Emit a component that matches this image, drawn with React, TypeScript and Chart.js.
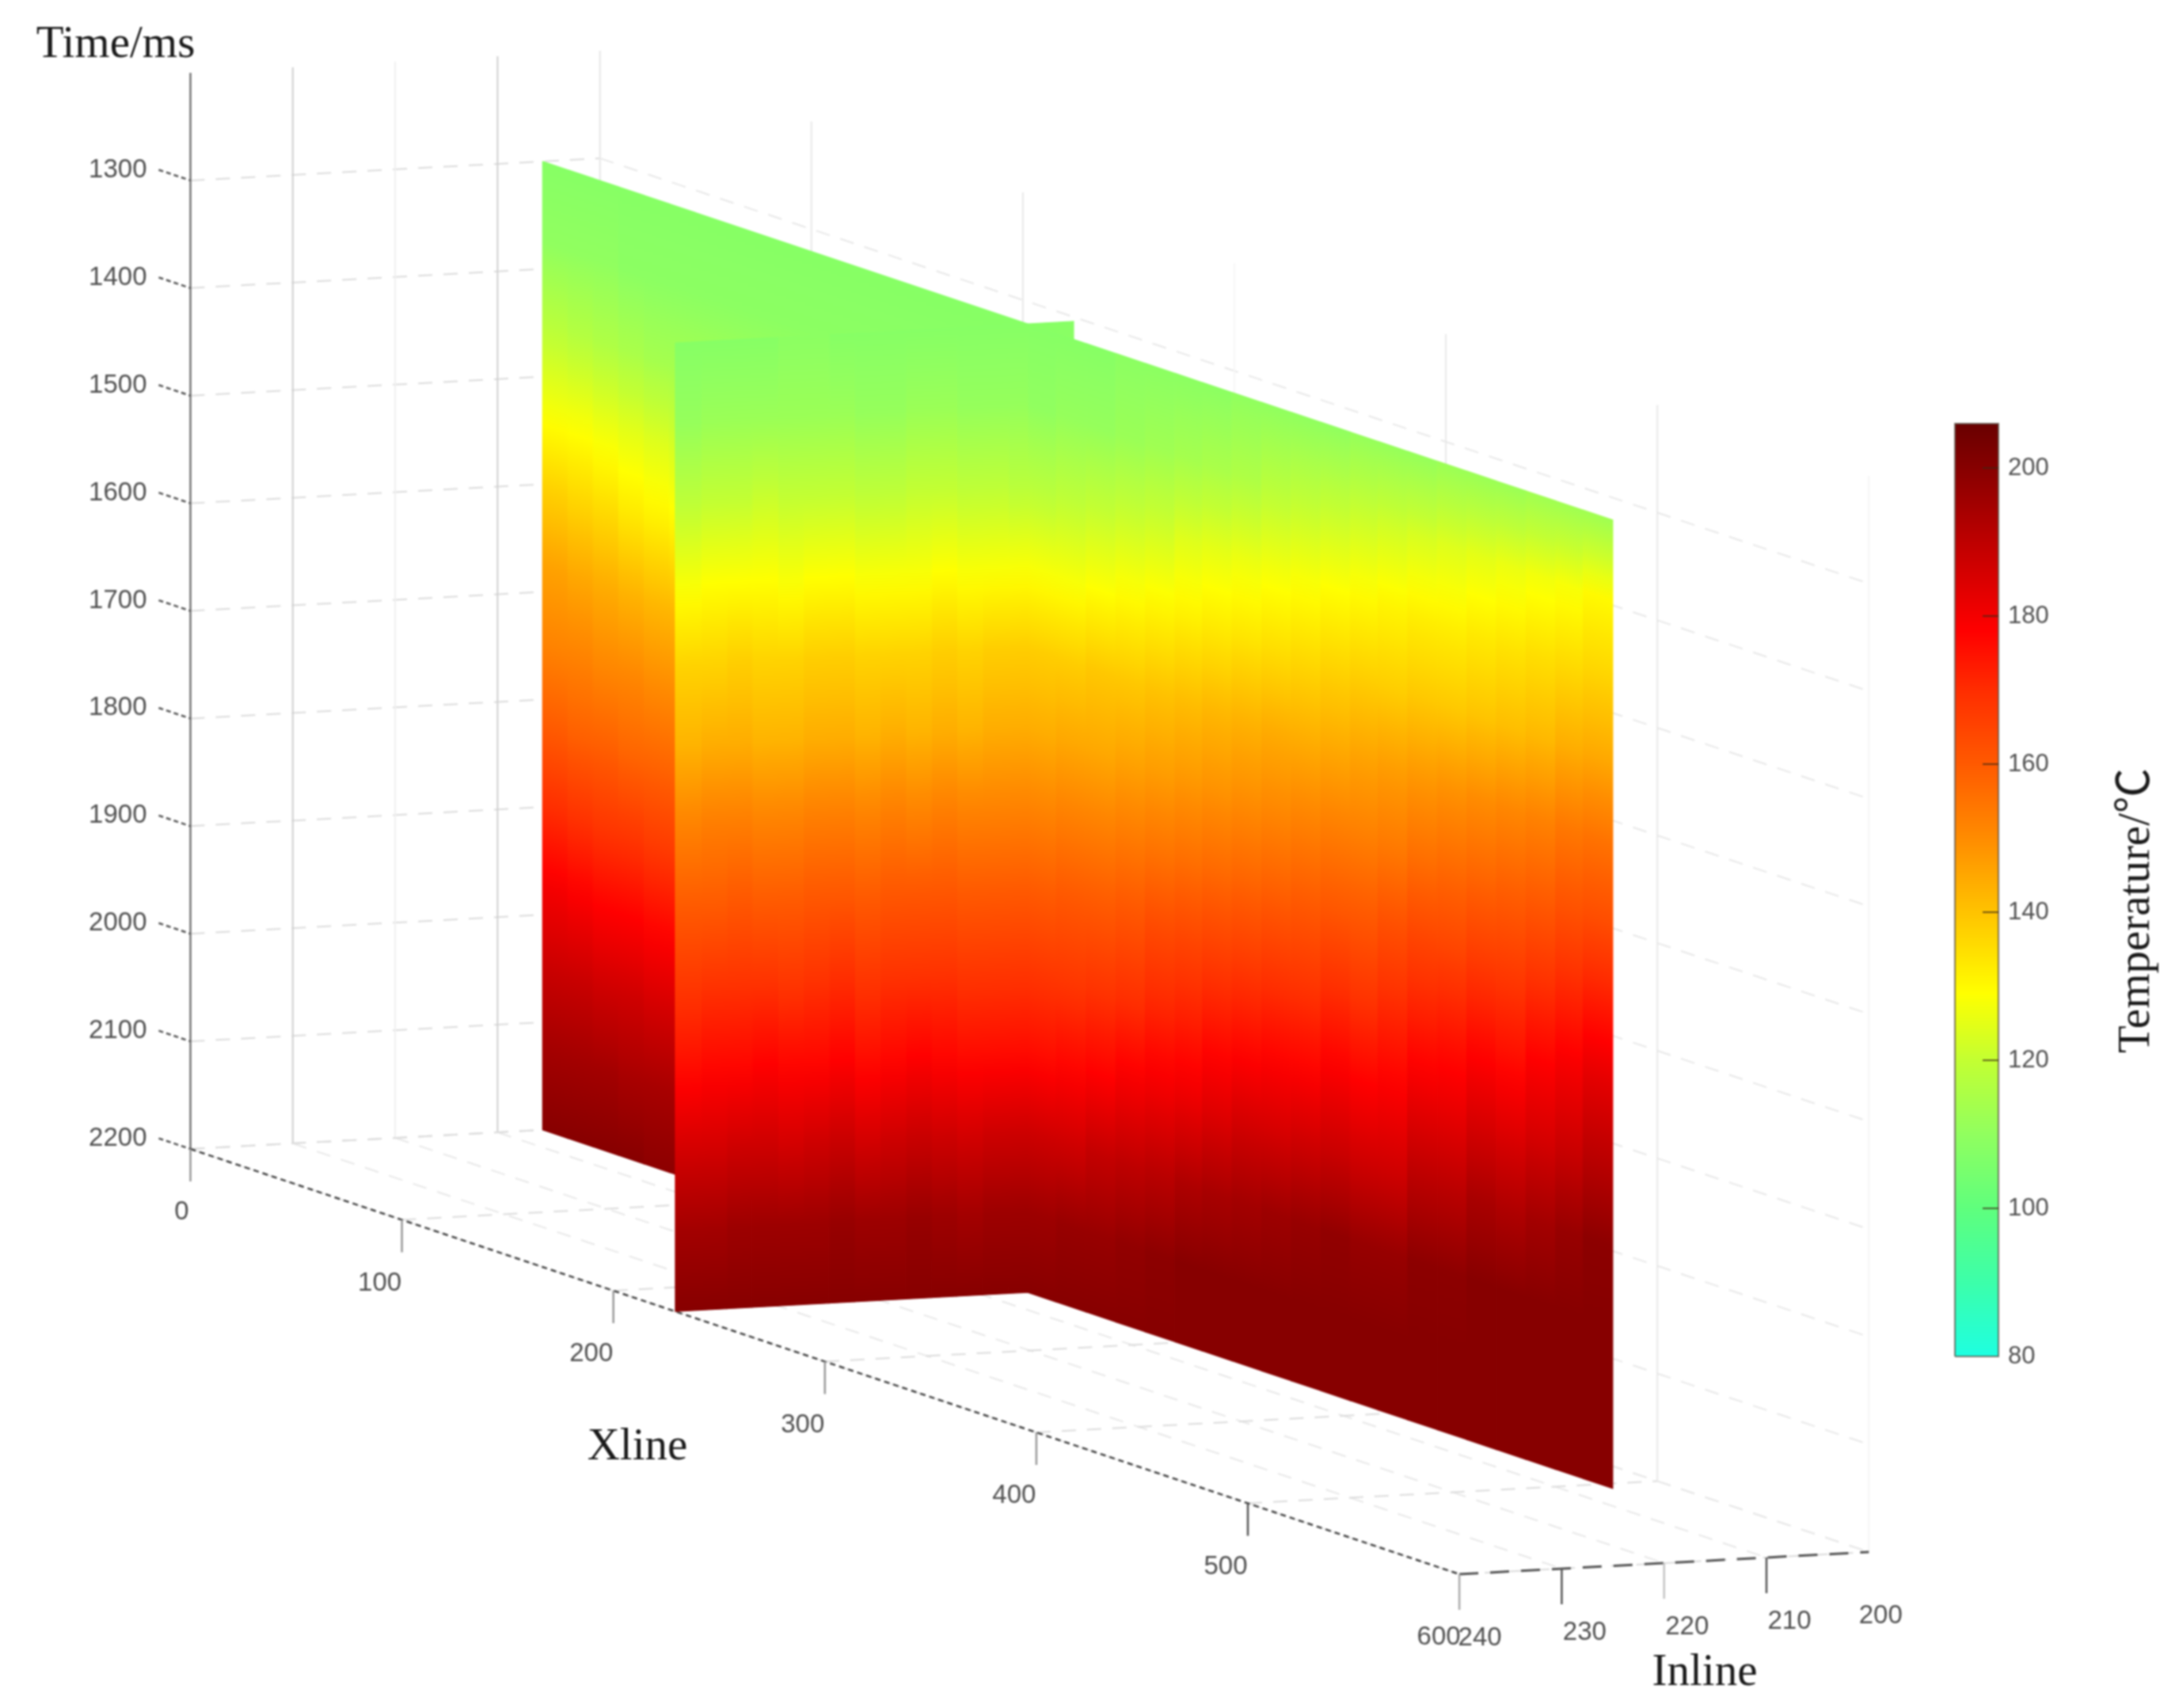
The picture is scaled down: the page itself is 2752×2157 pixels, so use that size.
import { useEffect, useRef } from "react"
import { Chart, registerables } from "chart.js"

Chart.register(...registerables)

const xlineTicks = [0, 100, 200, 300, 400, 500, 600]
const inlineTicks = [240, 230, 220, 210, 200]
const timeTicks = [1300, 1400, 1500, 1600, 1700, 1800, 1900, 2000, 2100, 2200]
const tempTicks = [80, 100, 120, 140, 160, 180, 200]

// rows of the temperature tables, ms
const timeRows = [1300, 1375, 1450, 1525, 1600, 1675, 1750, 1825, 1900, 1975, 2050, 2125, 2200]

// section along the xline direction, at one inline
const sectionInline = 205.6
const sectionEdges = [0, 12, 24, 36, 48, 60, 72, 229, 243, 257, 271, 285, 299, 312, 326, 340, 354, 368, 382, 395, 409, 423, 437, 451, 465, 479, 492, 506]
const sectionTemps = [
  [108, 110, 118, 127, 137, 146, 152, 160, 170, 180, 188, 195, 200],
  [108, 110, 117, 127, 136, 145, 152, 159, 169, 179, 188, 195, 200],
  [108, 110, 116, 126, 135, 144, 151, 159, 168, 178, 187, 195, 200],
  [108, 109, 115, 125, 133, 143, 151, 158, 168, 178, 187, 194, 200],
  [108, 109, 114, 124, 132, 142, 150, 158, 167, 177, 186, 194, 199],
  [108, 109, 114, 123, 131, 142, 150, 158, 167, 177, 186, 194, 199],
  [108, 109, 114, 123, 131, 141, 149, 157, 166, 176, 186, 194, 199],
  [108, 110, 118, 128, 138, 144, 152, 160, 168, 176, 187, 196, 200],
  [108, 111, 119, 128, 138, 145, 153, 161, 168, 177, 187, 197, 200],
  [108, 111, 120, 129, 139, 145, 153, 161, 169, 178, 189, 197, 200],
  [109, 112, 121, 130, 139, 146, 154, 162, 170, 180, 190, 198, 200],
  [109, 113, 122, 131, 140, 147, 155, 164, 172, 181, 191, 199, 200],
  [109, 114, 124, 132, 141, 148, 156, 165, 173, 182, 193, 200, 200],
  [109, 115, 125, 133, 142, 149, 157, 166, 175, 184, 194, 200, 200],
  [110, 116, 126, 134, 143, 150, 158, 167, 176, 186, 195, 200, 200],
  [110, 118, 127, 135, 144, 151, 159, 168, 177, 186, 196, 200, 200],
  [110, 119, 128, 136, 144, 152, 160, 168, 177, 187, 197, 200, 200],
  [110, 120, 129, 137, 145, 153, 161, 170, 179, 188, 198, 200, 200],
  [111, 121, 130, 138, 146, 153, 161, 169, 178, 187, 197, 200, 200],
  [111, 122, 131, 138, 147, 154, 163, 171, 179, 187, 197, 200, 200],
  [111, 123, 132, 139, 148, 156, 165, 173, 182, 191, 199, 200, 200],
  [112, 124, 132, 139, 149, 157, 165, 174, 182, 191, 199, 200, 200],
  [112, 125, 133, 140, 150, 158, 167, 176, 185, 194, 200, 200, 200],
  [112, 126, 134, 141, 151, 159, 167, 175, 184, 193, 200, 200, 200],
  [113, 127, 135, 142, 152, 160, 169, 178, 186, 195, 200, 200, 200],
  [113, 128, 136, 144, 154, 162, 171, 180, 188, 197, 200, 200, 200],
  [113, 130, 137, 145, 155, 163, 173, 183, 191, 199, 200, 200, 200],
]

// section along the inline direction, at one xline
const crossXline = 229.3
const crossEdges = [240, 237.5, 235, 232.5, 230, 227.5, 225, 222.5, 220, 217.5, 215, 212.5, 210, 207.5, 205.6]
const crossTemps = [
  [108, 111, 119, 128, 137, 143, 152, 160, 168, 176, 186, 195, 200],
  [108, 112, 120, 129, 137, 144, 153, 160, 169, 177, 186, 195, 200],
  [108, 112, 120, 129, 138, 144, 153, 161, 169, 177, 187, 196, 200],
  [108, 112, 121, 129, 137, 143, 152, 160, 169, 178, 187, 196, 200],
  [109, 112, 120, 128, 137, 143, 152, 160, 168, 177, 186, 196, 200],
  [109, 112, 120, 129, 138, 144, 153, 161, 169, 177, 187, 196, 200],
  [108, 112, 120, 129, 138, 144, 153, 161, 170, 178, 188, 197, 200],
  [108, 111, 119, 128, 137, 143, 152, 160, 168, 176, 186, 196, 200],
  [108, 111, 119, 128, 137, 144, 153, 161, 169, 177, 187, 196, 200],
  [108, 112, 120, 128, 137, 143, 152, 161, 169, 178, 188, 197, 200],
  [108, 112, 120, 129, 138, 144, 153, 161, 169, 177, 187, 196, 200],
  [108, 111, 119, 128, 137, 143, 152, 160, 168, 176, 186, 195, 200],
  [108, 111, 119, 128, 138, 144, 152, 160, 168, 176, 187, 196, 200],
  [108, 111, 118, 128, 138, 144, 152, 160, 168, 176, 187, 196, 200],
]
// the bit of the cross section that pokes out behind the long one
const crossTailEdges = [205.6, 201.1]
const crossTailTemps = [[108, 111, 118, 128, 138, 144, 152, 160, 168, 176, 187, 196, 200]]

const colormap: [number, number, number, number][] = [
  [80, 30, 255, 225],
  [90, 60, 255, 170],
  [100, 95, 255, 125],
  [110, 145, 255, 95],
  [120, 195, 255, 50],
  [129, 255, 255, 0],
  [140, 255, 195, 0],
  [150, 255, 140, 0],
  [160, 255, 90, 0],
  [170, 255, 45, 0],
  [178, 255, 0, 0],
  [190, 190, 0, 0],
  [200, 135, 0, 0],
  [206, 105, 0, 0],
]

const tempMin = 80
const tempMax = 206

function colorOf(t: number) {
  if (t <= colormap[0][0]) return `rgb(${colormap[0][1]},${colormap[0][2]},${colormap[0][3]})`
  for (let i = 1; i < colormap.length; i++) {
    const a = colormap[i - 1]
    const b = colormap[i]
    if (t <= b[0]) {
      const f = (t - a[0]) / (b[0] - a[0])
      return `rgb(${a[1] + (b[1] - a[1]) * f},${a[2] + (b[2] - a[2]) * f},${a[3] + (b[3] - a[3]) * f})`
    }
  }
  return "rgb(105,0,0)"
}

// oblique view of the cube: xline, inline, time to the chart's plane
function project(xline: number, inline: number, time: number) {
  return {
    x: 240.5 + 2.671 * xline + 12.93 * (240 - inline),
    y: 1451 + 0.895 * xline - 0.7 * (240 - inline) + 1.359 * (time - 2200),
  }
}

function cbarY(t: number) {
  return 1713 - (t - 80) * 9.35
}

type Pt = { x: number; y: number }

function lineSet(points: Pt[], color: string, width: number, dash: number[] = []) {
  return {
    data: points,
    showLine: true,
    pointRadius: 0,
    borderColor: color,
    borderWidth: width,
    borderDash: dash,
    fill: false,
  }
}

// one column of a section, its colour runs down the time rows
function columnSet(corner: (edge: number, time: number) => Pt, e0: number, e1: number, temps: number[]) {
  const first = timeRows[0]
  const last = timeRows[timeRows.length - 1]
  const paint = (ctx: any) => {
    const { x: sx, y: sy } = ctx.chart.scales
    const px = (p: Pt) => ({ x: sx.getPixelForValue(p.x), y: sy.getPixelForValue(p.y) })
    const a = px(corner(e0, first))
    const b = px(corner(e1, first))
    const c = px(corner(e0, last))
    // the scales have no size yet on the first pass
    if (!Number.isFinite(a.x + a.y + b.x + b.y + c.x + c.y)) return colorOf(temps[0])
    const dx = b.x - a.x
    const dy = b.y - a.y
    const n = Math.hypot(dx, dy)
    const nx = -dy / n
    const ny = dx / n
    const along = (c.x - a.x) * nx + (c.y - a.y) * ny
    const g = ctx.chart.ctx.createLinearGradient(a.x, a.y, a.x + nx * along, a.y + ny * along)
    for (let i = 0; i < timeRows.length - 1; i++) {
      for (let s = 0; s < 4; s++) {
        const t = temps[i] + ((temps[i + 1] - temps[i]) * s) / 4
        const tm = timeRows[i] + ((timeRows[i + 1] - timeRows[i]) * s) / 4
        g.addColorStop((tm - first) / (last - first), colorOf(t))
      }
    }
    g.addColorStop(1, colorOf(temps[temps.length - 1]))
    return g
  }
  return {
    data: [corner(e0, first), corner(e1, first), corner(e1, last), corner(e0, last), corner(e0, first)],
    showLine: true,
    pointRadius: 0,
    fill: "shape",
    backgroundColor: paint,
    borderColor: paint,
    borderWidth: 1.2,
  }
}

function buildDatasets() {
  const sets: any[] = []
  const gridColor = "#dcdcdc"
  const fainter = "#e8e8e8"
  const gridDash = [18, 14]

  // walls and floor
  timeTicks.forEach((t) => {
    sets.push(lineSet([project(0, 240, t), project(0, 200, t)], gridColor, 2, gridDash))
    sets.push(lineSet([project(0, 200, t), project(600, 200, t)], fainter, 2, gridDash))
  })
  inlineTicks.forEach((i) => {
    sets.push(lineSet([project(0, i, 2200), project(0, i, 1200)], i % 20 === 10 ? "#cfcfcf" : "#f0f0f0", 2))
    sets.push(lineSet([project(0, i, 2200), project(600, i, 2200)], fainter, 2, gridDash))
  })
  xlineTicks.forEach((x) => {
    sets.push(lineSet([project(x, 240, 2200), project(x, 200, 2200)], gridColor, 2, gridDash))
    sets.push(lineSet([project(x, 200, 2200), project(x, 200, 1200)], x === 600 || x === 300 ? "#f6f6f6" : fainter, 2))
  })

  // axes
  sets.push(lineSet([project(0, 240, 1200), project(0, 240, 2200)], "#777777", 2.5))
  sets.push(lineSet([project(0, 240, 2200), project(600, 240, 2200)], "#444444", 2.5, [7, 5]))
  sets.push(lineSet([project(600, 240, 2200), project(600, 200, 2200)], "#555555", 3, [24, 15]))
  timeTicks.forEach((t) => {
    sets.push(lineSet([project(-15, 240, t), project(0, 240, t)], "#555555", 2.5, [6, 4]))
  })
  const drop = (p: Pt, len: number) => [p, { x: p.x, y: p.y + len }]
  xlineTicks.slice(0, 6).forEach((x) => {
    sets.push(lineSet(drop(project(x, 240, 2200), 41), x === 500 ? "#555555" : "#999999", 2.5))
  })
  inlineTicks.slice(0, 4).forEach((i) => {
    sets.push(lineSet(drop(project(600, i, 2200), 45), i === 220 ? "#c4c4c4" : i === 240 ? "#aaaaaa" : "#555555", 2.5))
  })

  // sections, back to front
  const cross = (e: number, t: number) => project(crossXline, e, t)
  const along = (e: number, t: number) => project(e, sectionInline, t)
  crossTailTemps.forEach((temps, i) => sets.push(columnSet(cross, crossTailEdges[i], crossTailEdges[i + 1], temps)))
  sectionTemps.forEach((temps, i) => sets.push(columnSet(along, sectionEdges[i], sectionEdges[i + 1], temps)))
  for (let i = crossTemps.length - 1; i >= 0; i--) {
    sets.push(columnSet(cross, crossEdges[i], crossEdges[i + 1], crossTemps[i]))
  }

  // colour bar
  const barLeft = 2469
  const barRight = 2524
  const bar = (ctx: any) => {
    const sy = ctx.chart.scales.y
    const y0 = sy.getPixelForValue(cbarY(tempMin))
    const y1 = sy.getPixelForValue(cbarY(tempMax))
    if (!Number.isFinite(y0 + y1)) return colorOf(tempMin)
    const g = ctx.chart.ctx.createLinearGradient(0, y0, 0, y1)
    colormap.forEach((c) => g.addColorStop((c[0] - tempMin) / (tempMax - tempMin), colorOf(c[0])))
    return g
  }
  sets.push({
    data: [
      { x: barLeft, y: cbarY(tempMin) },
      { x: barRight, y: cbarY(tempMin) },
      { x: barRight, y: cbarY(tempMax) },
      { x: barLeft, y: cbarY(tempMax) },
      { x: barLeft, y: cbarY(tempMin) },
    ],
    showLine: true,
    pointRadius: 0,
    fill: "shape",
    backgroundColor: bar,
    borderColor: "rgba(90,80,70,0.75)",
    borderWidth: 2,
  })
  tempTicks.slice(1).forEach((t) => {
    sets.push(lineSet([{ x: barRight - 20, y: cbarY(t) }, { x: barRight, y: cbarY(t) }], "rgba(60,40,20,0.7)", 2))
  })

  // chart.js paints the first dataset on top
  sets.forEach((s, i) => (s.order = sets.length - i))
  return sets
}

const labelsPlugin = {
  id: "cubeLabels",
  afterDraw(chart: any) {
    const { ctx, scales } = chart
    const px = (p: Pt) => ({ x: scales.x.getPixelForValue(p.x), y: scales.y.getPixelForValue(p.y) })
    const tickFont = "33px 'Liberation Sans'"
    const titleFont = "57px 'Liberation Serif', 'Noto Sans CJK SC'"
    const put = (s: string, p: Pt, font: string, color: string, align: CanvasTextAlign = "center") => {
      ctx.font = font
      ctx.fillStyle = color
      ctx.textAlign = align
      ctx.textBaseline = "middle"
      ctx.fillText(s, p.x, p.y)
    }
    ctx.save()
    timeTicks.forEach((t) => {
      const p = px(project(0, 240, t))
      put(String(t), { x: p.x - 55, y: p.y - 13 }, tickFont, "#505050", "right")
    })
    xlineTicks.forEach((x) => {
      const p = px(project(x, 240, 2200))
      put(String(x), { x: p.x - (x === 600 ? 26 : x === 0 ? 11 : 28), y: p.y + 80 }, tickFont, "#505050")
    })
    inlineTicks.forEach((i) => {
      const p = px(project(600, i, 2200))
      put(String(i), { x: p.x + (i === 200 ? 15 : i === 240 ? 26 : 29), y: p.y + 81 }, tickFont, "#505050")
    })
    tempTicks.forEach((t) => {
      put(String(t), { x: 2536, y: px({ x: 0, y: cbarY(t) }).y }, "31px 'Liberation Sans'", "#505050", "left")
    })
    put("Time/ms", { x: 146, y: 57 }, titleFont, "#1a1a1a")
    put("Xline", { x: 805, y: 1828 }, titleFont, "#1a1a1a")
    put("Inline", { x: 2153, y: 2113 }, titleFont, "#1a1a1a")
    ctx.translate(2699, 1150)
    ctx.rotate(-Math.PI / 2)
    put("Temperature/℃", { x: 0, y: 0 }, titleFont, "#1a1a1a")
    ctx.restore()
  },
}

export default function App() {
  const chartRef = useRef<HTMLCanvasElement | null>(null)

  useEffect(() => {
    if (!chartRef.current) return
    const chart = new Chart(chartRef.current, {
      type: "scatter",
      data: { datasets: buildDatasets() },
      options: {
        responsive: false,
        animation: false,
        devicePixelRatio: 1,
        layout: { padding: 0 },
        plugins: { legend: { display: false }, tooltip: { enabled: false } },
        scales: {
          x: { type: "linear", min: 0, max: 2752, display: false },
          y: { type: "linear", min: 0, max: 2157, reverse: true, display: false },
        },
      },
      plugins: [labelsPlugin],
    } as any)
    return () => chart.destroy()
  }, [])

  return (
    <canvas
      ref={chartRef}
      width={2752}
      height={2157}
      style={{ position: "absolute", left: 0, top: 0, background: "#fff", filter: "blur(1.3px)" }}
    />
  )
}
